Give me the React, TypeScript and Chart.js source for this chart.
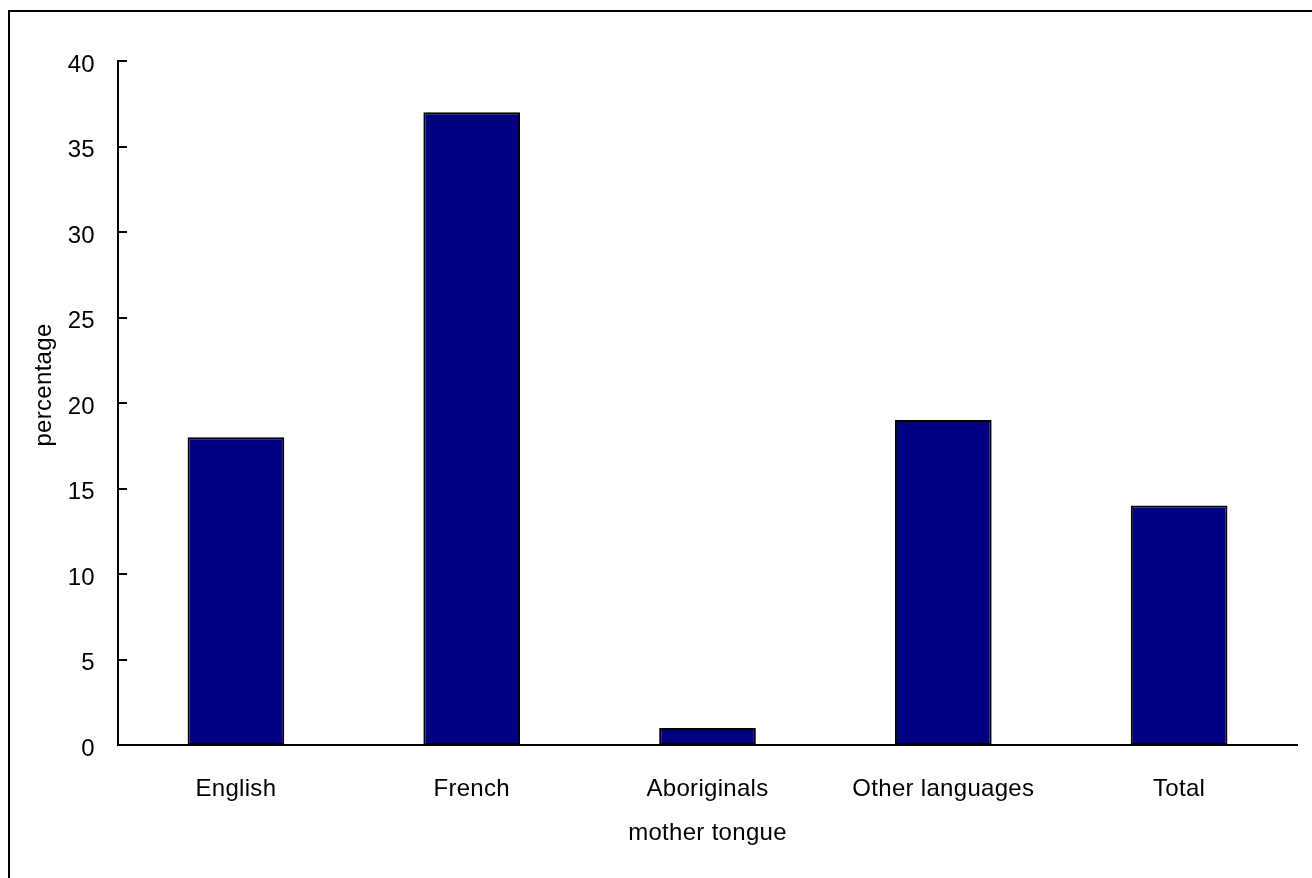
import React, { useEffect, useRef } from "react";
import { Chart, registerables } from "chart.js";

Chart.register(...registerables);

// Share of each mother-tongue group (percentage)
const categories: string[] = ["English", "French", "Aboriginals", "Other languages", "Total"];
const percentages: number[] = [18, 37, 1, 19, 14];
const yTickValues: number[] = [0, 5, 10, 15, 20, 25, 30, 35, 40];

const xTitle = "mother tongue";
const yTitle = "percentage";

const FONT_FAMILY = "'Liberation Sans', Arial, sans-serif";
const FONT_SIZE = 24;

// Slightly spaced lettering for every canvas text
const letterSpacingPlugin = {
  id: "letterSpacing",
  beforeLayout(chart: any) {
    chart.ctx.letterSpacing = "0.3px";
  },
  beforeDraw(chart: any) {
    chart.ctx.letterSpacing = "0.3px";
  },
};

// Frame around the whole chart, value-axis title and inward tick marks
const decorPlugin = {
  id: "decor",
  beforeDraw(chart: any) {
    const { ctx } = chart;
    ctx.save();
    ctx.fillStyle = "#ffffff";
    ctx.fillRect(0, 0, chart.width, chart.height);
    ctx.strokeStyle = "#000000";
    ctx.lineWidth = 2;
    ctx.strokeRect(9, 11, chart.width + 20, chart.height + 20);
    ctx.restore();
  },
  afterDraw(chart: any) {
    const { ctx, chartArea } = chart;
    const y = chart.scales.y;
    ctx.save();
    ctx.strokeStyle = "#000000";
    ctx.lineWidth = 2;
    y.ticks.forEach((_t: any, i: number) => {
      const py = Math.round(y.getPixelForTick(i));
      ctx.beginPath();
      ctx.moveTo(chartArea.left, py);
      ctx.lineTo(chartArea.left + 9, py);
      ctx.stroke();
    });

    // Rotated value-axis title, sitting a little above the axis middle
    ctx.translate(44, 385);
    ctx.rotate(-Math.PI / 2);
    ctx.fillStyle = "#000000";
    ctx.font = `${FONT_SIZE}px ${FONT_FAMILY}`;
    ctx.textAlign = "center";
    ctx.textBaseline = "middle";
    ctx.fillText(yTitle, 0, 0);
    ctx.restore();
  },
};

export default function App() {
  const canvasRef = useRef<HTMLCanvasElement | null>(null);

  useEffect(() => {
    document.body.style.margin = "0";
    const canvas = canvasRef.current;
    if (!canvas) return;

    const chart = new Chart(canvas, {
      type: "bar",
      data: {
        labels: categories,
        datasets: [
          {
            data: percentages,
            backgroundColor: "#000080",
            borderColor: "#000000",
            borderWidth: 2,
            borderSkipped: false,
            categoryPercentage: 1,
            barPercentage: 0.41,
          },
        ],
      },
      options: {
        animation: false,
        responsive: false,
        devicePixelRatio: 1,
        layout: { padding: { left: 0, top: 61, right: 15, bottom: 0 } },
        plugins: {
          legend: { display: false },
          tooltip: { enabled: false },
        },
        font: { family: FONT_FAMILY, size: FONT_SIZE },
        scales: {
          x: {
            z: 1,
            offset: true,
            grid: { display: false, drawTicks: false },
            border: { display: true, color: "#000000", width: 2 },
            ticks: {
              color: "#000000",
              padding: 30,
              maxRotation: 0,
              autoSkip: false,
              font: { family: FONT_FAMILY, size: FONT_SIZE },
            },
            title: {
              display: true,
              text: xTitle,
              color: "#000000",
              font: { family: FONT_FAMILY, size: FONT_SIZE },
              padding: { top: 0, bottom: 30 },
            },
            afterFit(scale: any) {
              scale.height = 133;
            },
          },
          y: {
            min: 0,
            max: 40,
            grid: { display: false, drawTicks: false },
            border: { display: true, color: "#000000", width: 2 },
            afterBuildTicks(scale: any) {
              scale.ticks = yTickValues.map((v) => ({ value: v }));
            },
            ticks: {
              color: "#000000",
              padding: 23,
              labelOffset: 4,
              font: { family: FONT_FAMILY, size: FONT_SIZE },
            },
            title: { display: false, text: yTitle },
            afterFit(scale: any) {
              scale.width = 118;
            },
          },
        },
      },
      plugins: [letterSpacingPlugin, decorPlugin],
    });

    return () => chart.destroy();
  }, []);

  return (
    <div style={{ width: 1312, height: 878, position: "relative" }}>
      <canvas ref={canvasRef} width={1312} height={878} style={{ display: "block" }} />
    </div>
  );
}
